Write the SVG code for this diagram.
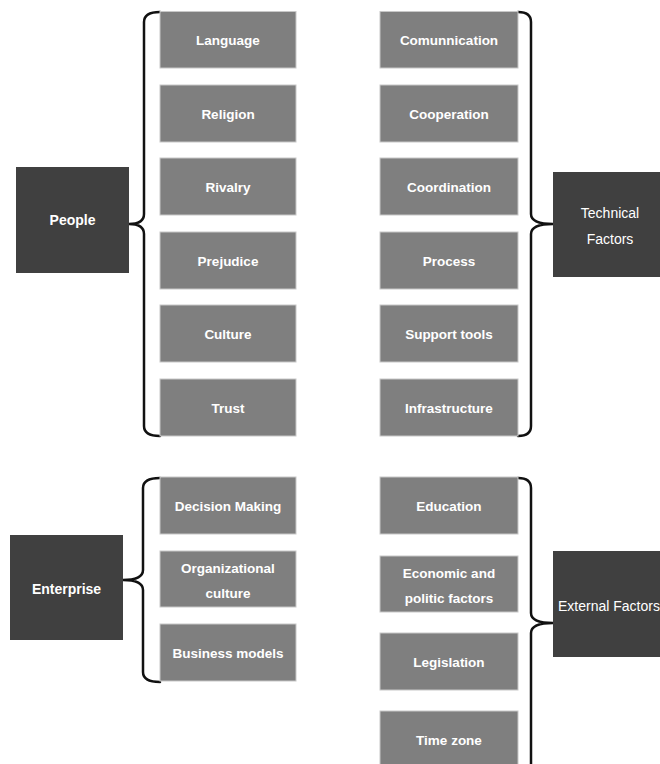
<svg xmlns="http://www.w3.org/2000/svg" width="660" height="764" viewBox="0 0 660 764">
  <style>
    .item rect { fill: #7f7f7f; stroke: #c8c8c8; stroke-width: 1; }
    .item text { fill: #ffffff; font-family: "Liberation Sans", Arial, sans-serif; font-weight: bold; font-size: 13.5px; text-anchor: middle; }
    .hub rect { fill: #404040; }
    .hub text { fill: #ffffff; font-family: "Liberation Sans", Arial, sans-serif; font-size: 14px; text-anchor: middle; }
    .hub text.b { font-weight: bold; }
    .brace { fill: none; stroke: #111111; stroke-width: 2.5; stroke-linejoin: round; stroke-linecap: round; }
  </style>
  <rect width="660" height="764" fill="#ffffff"/>

  <!-- braces joining each hub to its items -->
  <g id="connectors">
    <path class="brace" d="M160,12 Q144,12 144,22 V214 Q144,224 129,224 Q144,224 144,234 V426 Q144,436 160,436"/>
    <path class="brace" d="M518,12 Q531,12 531,22 V214 Q531,224 553,224 Q531,224 531,234 V426 Q531,436 518,436"/>
    <path class="brace" d="M160,478 Q143,478 143,488 V570 Q143,580 123,580 Q143,580 143,590 V672 Q143,682 160,682"/>
    <path class="brace" d="M518,478 Q531,478 531,488 V613 Q531,623 553,623 Q531,623 531,633 V770"/>
  </g>

  <!-- hubs -->
  <g id="people" class="hub">
    <rect x="16" y="167" width="113" height="106"/>
    <text class="b" x="72.5" y="225">People</text>
  </g>
  <g id="technical-factors" class="hub">
    <rect x="553" y="172" width="110" height="105"/>
    <text x="610" y="218">Technical</text>
    <text x="610" y="244">Factors</text>
  </g>
  <g id="enterprise" class="hub">
    <rect x="10" y="535" width="113" height="105"/>
    <text class="b" x="66.5" y="594">Enterprise</text>
  </g>
  <g id="external-factors" class="hub">
    <rect x="553" y="551" width="110" height="106"/>
    <text x="609" y="611">External Factors</text>
  </g>

  <!-- people items -->
  <g id="language" class="item"><rect x="160" y="11.5" width="136" height="56.5"/><text x="228" y="45">Language</text></g>
  <g id="religion" class="item"><rect x="160" y="85" width="136" height="57"/><text x="228" y="119">Religion</text></g>
  <g id="rivalry" class="item"><rect x="160" y="158" width="136" height="57"/><text x="228" y="192">Rivalry</text></g>
  <g id="prejudice" class="item"><rect x="160" y="232" width="136" height="57"/><text x="228" y="266">Prejudice</text></g>
  <g id="culture" class="item"><rect x="160" y="305" width="136" height="57"/><text x="228" y="339">Culture</text></g>
  <g id="trust" class="item"><rect x="160" y="379" width="136" height="57"/><text x="228" y="413">Trust</text></g>

  <!-- technical items -->
  <g id="comunnication" class="item"><rect x="380" y="11.5" width="138" height="56.5"/><text x="449" y="45">Comunnication</text></g>
  <g id="cooperation" class="item"><rect x="380" y="85" width="138" height="57"/><text x="449" y="119">Cooperation</text></g>
  <g id="coordination" class="item"><rect x="380" y="158" width="138" height="57"/><text x="449" y="192">Coordination</text></g>
  <g id="process" class="item"><rect x="380" y="232" width="138" height="57"/><text x="449" y="266">Process</text></g>
  <g id="support-tools" class="item"><rect x="380" y="305" width="138" height="57"/><text x="449" y="339">Support tools</text></g>
  <g id="infrastructure" class="item"><rect x="380" y="379" width="138" height="57"/><text x="449" y="413">Infrastructure</text></g>

  <!-- enterprise items -->
  <g id="decision-making" class="item"><rect x="160" y="477" width="136" height="57"/><text x="228" y="511">Decision Making</text></g>
  <g id="organizational-culture" class="item"><rect x="160" y="551" width="136" height="56"/><text x="228" y="573">Organizational</text><text x="228" y="598">culture</text></g>
  <g id="business-models" class="item"><rect x="160" y="624" width="136" height="57"/><text x="228" y="658">Business models</text></g>

  <!-- external items -->
  <g id="education" class="item"><rect x="380" y="477" width="138" height="57"/><text x="449" y="511">Education</text></g>
  <g id="economic-politic" class="item"><rect x="380" y="556" width="138" height="56"/><text x="449" y="578">Economic and</text><text x="449" y="603">politic factors</text></g>
  <g id="legislation" class="item"><rect x="380" y="633" width="138" height="57"/><text x="449" y="667">Legislation</text></g>
  <g id="time-zone" class="item"><rect x="380" y="711" width="138" height="60"/><text x="449" y="745">Time zone</text></g>
</svg>
